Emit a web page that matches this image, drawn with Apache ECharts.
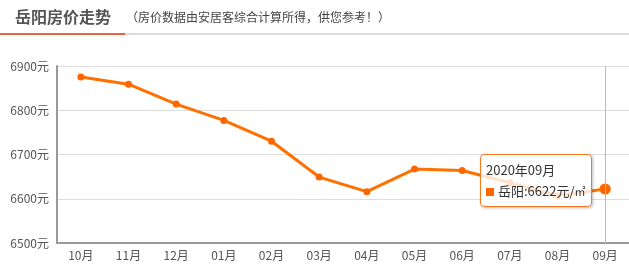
<!DOCTYPE html>
<html><head><meta charset="utf-8">
<script src="https://cdn.jsdelivr.net/npm/echarts@6/dist/echarts.min.js"></script>
<style>html,body{margin:0;padding:0;background:#fff}#c{width:629px;height:273px}</style>
</head><body><div id="c"></div>
<script>
const titleText = '岳阳房价走势';
const subText = '（房价数据由安居客综合计算所得，供您参考！）';
const categories = ['10月','11月','12月','01月','02月','03月','04月','05月','06月','07月','08月','09月'];
const fullMonths = ['2019年10月','2019年11月','2019年12月','2020年01月','2020年02月','2020年03月','2020年04月','2020年05月','2020年06月','2020年07月','2020年08月','2020年09月'];
const prices = [6875, 6859, 6814, 6777, 6730, 6649, 6616, 6667, 6664, 6636, 6607, 6622];
const seriesName = '岳阳';
const yTicks = {min: 6500, max: 6900, interval: 100};

const chart = echarts.init(document.getElementById('c'));
chart.setOption({
  animation: false,
  textStyle: {fontFamily: '"Noto Sans CJK SC", "Microsoft YaHei", sans-serif'},
  graphic: [
    {type:'text', left:15, top:9, style:{text:titleText, font:'bold 16px "Noto Sans CJK SC"', fill:'#555'}},
    {type:'text', left:126, top:11, style:{text:subText, font:'12px "Noto Sans CJK SC"', fill:'#444'}},
    {type:'rect', shape:{x:125, y:33, width:504, height:2}, style:{fill:'#dcdcdc'}},
    {type:'rect', shape:{x:0, y:33, width:125, height:2}, style:{fill:'#e8643a'}}
  ],
  grid: {left: 57, right: 0, top: 66, bottom: 30},
  tooltip: {
    trigger: 'axis',
    alwaysShowContent: true,
    position: function(){ return [480, 154]; },
    backgroundColor: 'rgba(255,255,255,0.8)',
    borderColor: '#f47920',
    borderWidth: 1,
    borderRadius: 4,
    padding: [4, 5],
    extraCssText: 'box-shadow:1px 1px 3px rgba(0,0,0,0.25);line-height:21px;',
    textStyle: {color:'#333', fontSize:13, fontFamily:'"Noto Sans CJK SC", sans-serif'},
    axisPointer: {type:'line', lineStyle:{color:'#bbb', width:1, type:'solid'}},
    formatter: function(params){
      const p = params[0];
      return fullMonths[p.dataIndex] + '<br/><span style="display:inline-block;width:8px;height:8px;background:#f60;margin-right:4px;"></span>' + p.seriesName + ':' + p.value + '元/<span style="font-size:11px">㎡</span>';
    }
  },
  xAxis: {
    type: 'category',
    data: categories,
    boundaryGap: true,
    axisLine: {lineStyle:{color:'#999', width:2}},
    axisTick: {alignWithLabel:true, length:4, lineStyle:{color:'#ccc'}},
    axisLabel: {color:'#555', fontSize:12, margin:6}
  },
  yAxis: {
    type: 'value',
    min: yTicks.min, max: yTicks.max, interval: yTicks.interval,
    axisLine: {show:true, lineStyle:{color:'#999', width:2}},
    axisTick: {show:false},
    axisLabel: {color:'#555', fontSize:12, margin:8, formatter: function(v){ return v + '元'; }},
    splitLine: {lineStyle:{color:'#ddd'}}
  },
  series: [{
    name: seriesName,
    type: 'line',
    data: prices,
    symbol: 'circle',
    symbolSize: 7,
    itemStyle: {color:'#f60'},
    lineStyle: {color:'#f60', width:3},
    emphasis: {scale: 1.6, itemStyle:{color:'#f60'}}
  }]
});
chart.dispatchAction({type:'showTip', seriesIndex:0, dataIndex:11});
chart.dispatchAction({type:'highlight', seriesIndex:0, dataIndex:11});
</script></body></html>
